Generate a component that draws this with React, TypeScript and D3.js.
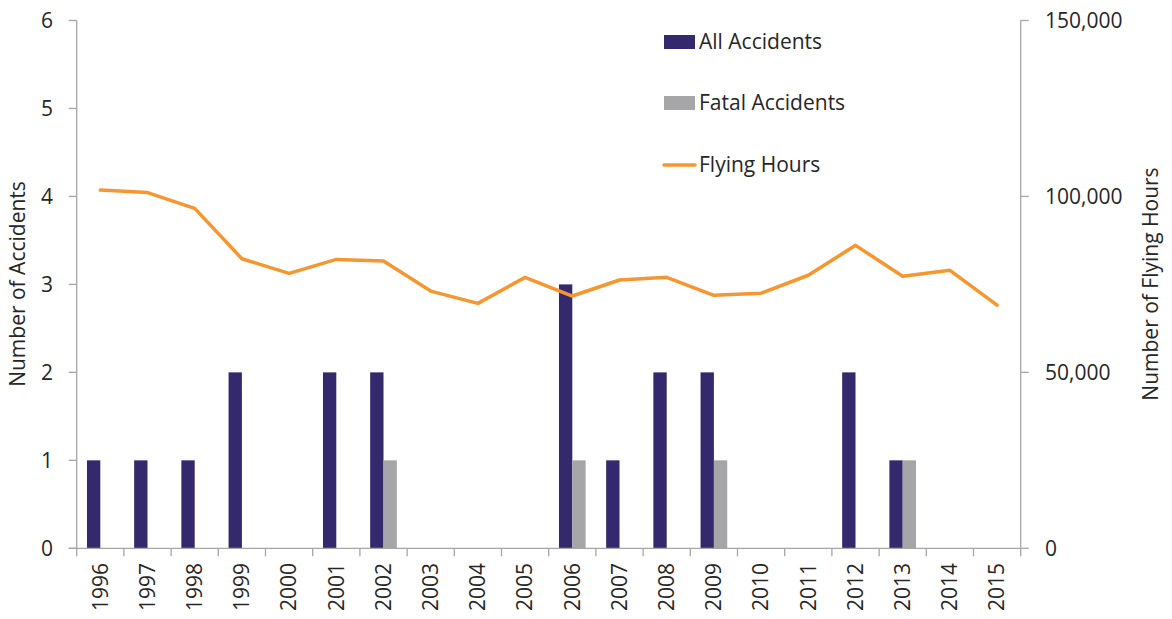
import React, { useEffect, useRef } from 'react';
import * as d3 from 'd3';

const years = ['1996', '1997', '1998', '1999', '2000', '2001', '2002', '2003', '2004', '2005',
  '2006', '2007', '2008', '2009', '2010', '2011', '2012', '2013', '2014', '2015'];
const allAccidents = [1, 1, 1, 2, 0, 2, 2, 0, 0, 0, 3, 1, 2, 2, 0, 0, 2, 1, 0, 0];
const fatalAccidents = [0, 0, 0, 0, 0, 0, 1, 0, 0, 0, 1, 0, 0, 1, 0, 0, 0, 1, 0, 0];
const flyingHours = [101800, 101100, 96600, 82300, 78150, 82100, 81650, 73100, 69600, 77000,
  71700, 76250, 77000, 71900, 72500, 77600, 86100, 77300, 79000, 69100];
const leftTicks = [0, 1, 2, 3, 4, 5, 6];
const rightTicks = [0, 50000, 100000, 150000];

const FONT = '"Open Sans", Lato, sans-serif';
const FS = 21;
const NAVY = '#35296e';
const GREY = '#a6a6a9';
const ORANGE = '#f7962f';
const AXIS = '#a6a6a6';
const TEXT = '#262626';

const App = () => {
  const ref = useRef<SVGSVGElement | null>(null);

  useEffect(() => {
    const svg = d3.select(ref.current);
    svg.selectAll('*').remove();

    const left = 76.7, right = 1020.7, top = 20.5, bottom = 548.3;

    const x = d3.scaleBand().domain(years).range([left, right]).padding(0);
    const sub = d3.scaleBand().domain(['all', 'fatal']).range([0, x.bandwidth()]).paddingOuter(0.77).paddingInner(0);
    const yL = d3.scaleLinear().domain([0, 6]).range([bottom, top]);
    const yR = d3.scaleLinear().domain([0, 150000]).range([bottom, top]);

    const g = svg.append('g').style('font-family', FONT);

    // bars
    const groups = g.selectAll('g.yr').data(years).enter().append('g')
      .attr('transform', d => `translate(${x(d)},0)`);
    groups.append('rect')
      .attr('x', sub('all')!)
      .attr('width', sub.bandwidth())
      .attr('y', (_, i) => yL(allAccidents[i]))
      .attr('height', (_, i) => bottom - yL(allAccidents[i]))
      .attr('fill', NAVY);
    groups.append('rect')
      .attr('x', sub('fatal')!)
      .attr('width', sub.bandwidth())
      .attr('y', (_, i) => yL(fatalAccidents[i]))
      .attr('height', (_, i) => bottom - yL(fatalAccidents[i]))
      .attr('fill', GREY);

    // left axis
    g.append('line').attr('x1', left).attr('x2', left).attr('y1', top).attr('y2', bottom)
      .attr('stroke', AXIS).attr('stroke-width', 1.3);
    leftTicks.forEach(t => {
      g.append('line').attr('x1', left - 8).attr('x2', left).attr('y1', yL(t)).attr('y2', yL(t))
        .attr('stroke', AXIS).attr('stroke-width', 1.3);
      g.append('text').attr('x', 53).attr('y', yL(t)).attr('dy', '0.35em')
        .attr('text-anchor', 'end').attr('font-size', FS).attr('fill', TEXT).text(t);
    });

    // right axis
    const fmt = d3.format(',');
    g.append('line').attr('x1', right).attr('x2', right).attr('y1', top).attr('y2', bottom)
      .attr('stroke', AXIS).attr('stroke-width', 1.3);
    rightTicks.forEach(t => {
      g.append('line').attr('x1', right).attr('x2', right + 8).attr('y1', yR(t)).attr('y2', yR(t))
        .attr('stroke', AXIS).attr('stroke-width', 1.3);
      g.append('text').attr('x', 1045).attr('y', yR(t)).attr('dy', '0.35em')
        .attr('font-size', FS).attr('fill', TEXT).text(fmt(t));
    });

    // x axis
    g.append('line').attr('x1', left - 8).attr('x2', right).attr('y1', bottom).attr('y2', bottom)
      .attr('stroke', AXIS).attr('stroke-width', 1.3);
    [...years.map(d => x(d)!), right].forEach(px => {
      g.append('line').attr('x1', px).attr('x2', px).attr('y1', bottom).attr('y2', bottom + 8)
        .attr('stroke', AXIS).attr('stroke-width', 1.3);
    });
    years.forEach(yr => {
      const cx = x(yr)! + x.bandwidth() / 2;
      g.append('text')
        .attr('transform', `translate(${cx},563) rotate(-90)`)
        .attr('dy', '0.35em').attr('text-anchor', 'end')
        .attr('font-size', FS).attr('fill', TEXT).text(yr);
    });

    // flying hours line
    const line = d3.line<number>()
      .x((_, i) => x(years[i])! + x.bandwidth() / 2)
      .y(d => yR(d));
    g.append('path').datum(flyingHours).attr('d', line)
      .attr('fill', 'none').attr('stroke', ORANGE).attr('stroke-width', 3.5)
      .attr('stroke-linejoin', 'round').attr('stroke-linecap', 'round');

    // axis titles
    g.append('text').attr('transform', `translate(25,284) rotate(-90)`)
      .attr('text-anchor', 'middle').attr('font-size', FS).attr('fill', TEXT)
      .text('Number of Accidents');
    g.append('text').attr('transform', `translate(1158,284) rotate(-90)`)
      .attr('text-anchor', 'middle').attr('font-size', FS).attr('fill', TEXT)
      .text('Number of Flying Hours');

    // legend
    const legend = g.append('g');
    legend.append('rect').attr('x', 664).attr('y', 35).attr('width', 31).attr('height', 14).attr('fill', NAVY);
    legend.append('text').attr('x', 699).attr('y', 42).attr('dy', '0.35em').attr('font-size', FS)
      .attr('fill', TEXT).text('All Accidents');
    legend.append('rect').attr('x', 664).attr('y', 96).attr('width', 31).attr('height', 14).attr('fill', GREY);
    legend.append('text').attr('x', 699).attr('y', 103).attr('dy', '0.35em').attr('font-size', FS)
      .attr('fill', TEXT).text('Fatal Accidents');
    legend.append('line').attr('x1', 664).attr('x2', 695).attr('y1', 165).attr('y2', 165)
      .attr('stroke', ORANGE).attr('stroke-width', 3.5).attr('stroke-linecap', 'round');
    legend.append('text').attr('x', 699).attr('y', 165).attr('dy', '0.35em').attr('font-size', FS)
      .attr('fill', TEXT).text('Flying Hours');
  }, []);

  return (
    <svg ref={ref} width={1172} height={619}
      style={{ position: 'absolute', left: 0, top: 0, background: '#fff' }} />
  );
};

export default App;
